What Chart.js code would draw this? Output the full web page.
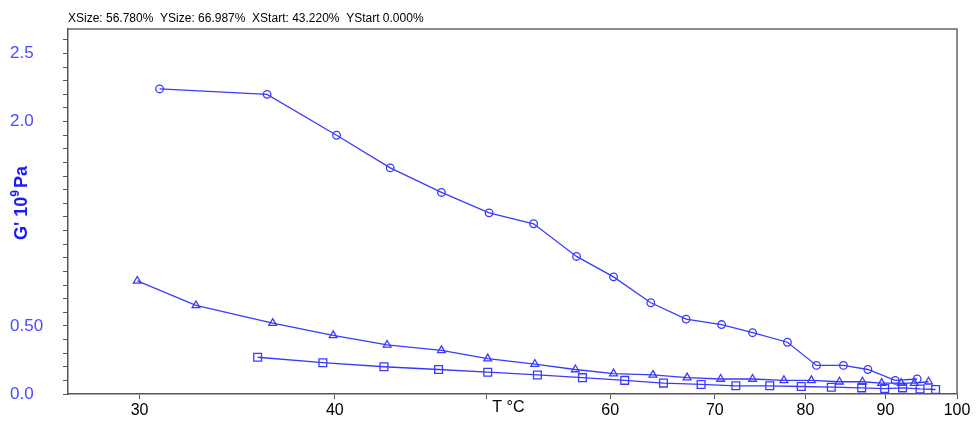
<!DOCTYPE html>
<html>
<head>
<meta charset="utf-8">
<script src="https://cdn.jsdelivr.net/npm/chart.js@4"></script>
<style>
  html, body { margin: 0; padding: 0; background: #fff; }
  #wrap { width: 976px; height: 424px; }
</style>
</head>
<body>
<div id="wrap"><canvas id="chart" width="976" height="424"></canvas></div>
<script>
// temperature (°C) and G' (10^9 Pa)
const circleT = [30.9, 36.2, 40.1, 43.4, 46.8, 50.2, 53.6, 57.1, 60.3, 63.7, 67.1, 70.7, 74.0, 77.9, 81.3, 84.6, 87.7, 91.3, 94.3];
const circleG = [2.24, 2.20, 1.90, 1.66, 1.48, 1.33, 1.25, 1.01, 0.86, 0.67, 0.55, 0.51, 0.45, 0.38, 0.21, 0.21, 0.18, 0.10, 0.11];

const triangleT = [29.9, 32.6, 36.5, 39.9, 43.2, 46.8, 50.1, 53.7, 57.0, 60.3, 63.9, 67.2, 70.6, 74.0, 77.5, 80.7, 84.1, 87.0, 89.5, 92.1, 93.9, 95.9];
const triangleG = [0.83, 0.65, 0.52, 0.43, 0.36, 0.32, 0.26, 0.22, 0.18, 0.15, 0.14, 0.12, 0.11, 0.11, 0.10, 0.10, 0.09, 0.09, 0.08, 0.08, 0.08, 0.09];

const squareT = [35.7, 39.3, 43.0, 46.6, 50.1, 53.9, 57.6, 61.3, 64.9, 68.6, 72.2, 75.9, 79.5, 83.1, 86.9, 89.9, 92.3, 94.7, 96.9];
const squareG = [0.27, 0.23, 0.20, 0.18, 0.16, 0.14, 0.12, 0.10, 0.08, 0.07, 0.06, 0.06, 0.055, 0.05, 0.045, 0.04, 0.045, 0.037, 0.033];

const xTicks = [30, 40, 50, 60, 70, 80, 90, 100];
const yLabels = { 0: '0.0', 5: '0.50', 20: '2.0', 25: '2.5' };
const headerText = 'XSize: 56.780%  YSize: 66.987%  XStart: 43.220%  YStart 0.000%';

const blue = '#3a3aff';

function toPoints(xs, ys) {
    return xs.map((x, i) => ({ x: x, y: ys[i] }));
}

function series(xs, ys, style, radius) {
    return {
        data: toPoints(xs, ys),
        borderColor: blue,
        borderWidth: 1.3,
        pointStyle: style,
        pointRadius: radius,
        pointBorderColor: blue,
        pointBackgroundColor: 'rgba(0,0,0,0)',
        pointBorderWidth: 1.3,
        showLine: true,
        tension: 0
    };
}

// frame, header, axis title and the "T °C" label
const decorations = {
    id: 'decorations',
    afterDraw(chart) {
        const ctx = chart.ctx;
        const a = chart.chartArea;
        ctx.save();
        ctx.strokeStyle = '#666';
        ctx.lineWidth = 1.5;
        ctx.beginPath();
        ctx.moveTo(a.left, a.top);
        ctx.lineTo(a.right, a.top);
        ctx.lineTo(a.right, a.bottom);
        ctx.stroke();

        ctx.fillStyle = '#000';
        ctx.font = '12px Arial, "Liberation Sans"';
        ctx.textBaseline = 'middle';
        ctx.textAlign = 'left';
        ctx.fillText(headerText, a.left, 19);

        const xs = chart.scales.x;
        ctx.font = '16px Arial, "Liberation Sans"';
        ctx.fillText('T °C', xs.getPixelForValue(50) + 6, 408);

        // y axis title with superscript
        ctx.translate(22, 203);
        ctx.rotate(-Math.PI / 2);
        ctx.fillStyle = '#1a1aff';
        const big = 'bold 18px Arial, "Liberation Sans"';
        const small = 'bold 12px Arial, "Liberation Sans"';
        ctx.font = big;
        const w1 = ctx.measureText("G' 10").width;
        const w3 = ctx.measureText('Pa').width;
        ctx.font = small;
        const w2 = ctx.measureText('9').width + 2;
        let x0 = -(w1 + w2 + w3) / 2;
        ctx.font = big;
        ctx.fillText("G' 10", x0, 0);
        ctx.font = small;
        ctx.fillText('9', x0 + w1, -6);
        ctx.font = big;
        ctx.fillText('Pa', x0 + w1 + w2, 0);
        ctx.restore();
    }
};

new Chart(document.getElementById('chart'), {
    type: 'scatter',
    data: {
        datasets: [
            series(circleT, circleG, 'circle', 3.8),
            series(triangleT, triangleG, 'triangle', 4.5),
            series(squareT, squareG, 'rect', 5.5)
        ]
    },
    options: {
        responsive: false,
        animation: false,
        layout: { padding: { top: 29, right: 19, left: 10, bottom: 0 } },
        plugins: {
            legend: { display: false },
            tooltip: { enabled: false }
        },
        scales: {
            x: {
                type: 'logarithmic',
                min: 27,
                max: 100,
                afterBuildTicks: function (scale) {
                    scale.ticks = xTicks.map(v => ({ value: v }));
                },
                afterFit: function (scale) { scale.height = 30; },
                grid: { drawOnChartArea: false, drawTicks: true, tickLength: 5, tickColor: '#555' },
                border: { color: '#555', width: 1.5 },
                ticks: {
                    autoSkip: false,
                    maxRotation: 0,
                    padding: 2,
                    color: '#000',
                    font: { family: 'Arial, "Liberation Sans"', size: 16 },
                    callback: function (value) {
                        return value === 50 ? '' : String(value);
                    }
                }
            },
            y: {
                min: 0,
                max: 2.68,
                afterBuildTicks: function (scale) {
                    const t = [];
                    for (let i = 0; i <= 26; i++) t.push({ value: i / 10 });
                    scale.ticks = t;
                },
                afterFit: function (scale) { scale.width = 58; },
                grid: { drawOnChartArea: false, drawTicks: true, tickLength: 5, tickColor: '#555' },
                border: { color: '#555', width: 1.5 },
                ticks: {
                    autoSkip: false,
                    crossAlign: 'far',
                    color: '#4a4aff',
                    font: { family: 'Arial, "Liberation Sans"', size: 17 },
                    callback: function (value) {
                        return yLabels[Math.round(value * 10)] || '';
                    }
                }
            }
        }
    },
    plugins: [decorations]
});
</script>
</body>
</html>
